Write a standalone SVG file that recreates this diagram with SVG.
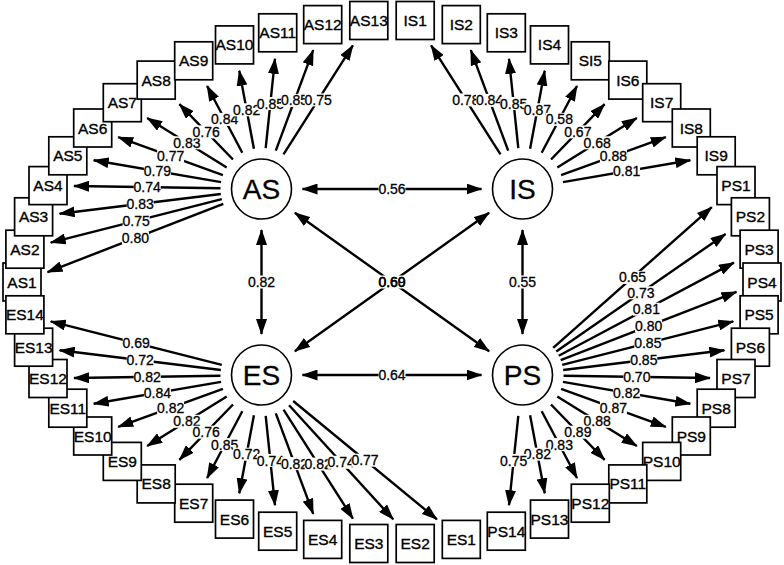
<svg xmlns="http://www.w3.org/2000/svg" xmlns:xlink="http://www.w3.org/1999/xlink" width="784" height="565" viewBox="0 0 784 565">
<style>
.bg{fill:#fff}
.box rect{fill:#fff;stroke:#000;stroke-width:1.7}
.lat circle{fill:#fff;stroke:#000;stroke-width:1.6}
text{font-family:"Liberation Sans",Arial,Helvetica,sans-serif;fill:#000;text-anchor:middle;dominant-baseline:central}
.box text{font-size:15.5px;stroke:#000;stroke-width:0.35}
.lat text{font-size:28px;stroke:#000;stroke-width:0.3}
.edges line{stroke:#000;stroke-width:2.4;fill:none;marker-end:url(#ah)}
.edges line.b{marker-start:url(#ah)}
.edges text{font-size:14px;stroke:#000;stroke-width:0.3}
#lb{fill:#fff}
</style>
<defs>
<marker id="ah" viewBox="0 0 16 11" refX="15" refY="5.5" markerWidth="16" markerHeight="11" markerUnits="userSpaceOnUse" orient="auto-start-reverse"><path d="M0,0L16,5.5L0,11z" fill="#000"/></marker>
<rect id="lb" x="-13.5" y="-6.5" width="27" height="13"/>
</defs>
<rect class="bg" x="0" y="0" width="784" height="565"/>
<g id="connectors" class="edges">
<line x1="223.3" y1="203.8" x2="47.5" y2="272.1"/>
<line x1="221.8" y1="199.1" x2="50.7" y2="242.6"/>
<line x1="220.8" y1="194.0" x2="59.6" y2="213.7"/>
<line x1="220.5" y1="188.3" x2="74.0" y2="186.0"/>
<line x1="221.1" y1="182.1" x2="93.7" y2="160.2"/>
<line x1="222.9" y1="175.1" x2="118.2" y2="137.2"/>
<line x1="226.7" y1="167.4" x2="147.2" y2="118.1"/>
<line x1="233.0" y1="159.5" x2="179.4" y2="104.2"/>
<line x1="242.3" y1="152.8" x2="207.1" y2="86.0"/>
<line x1="253.9" y1="148.7" x2="239.3" y2="70.8"/>
<line x1="265.7" y1="148.2" x2="275.0" y2="58.8"/>
<line x1="275.8" y1="150.6" x2="313.2" y2="50.2"/>
<line x1="283.5" y1="154.4" x2="352.9" y2="45.4"/>
<line x1="500.5" y1="154.4" x2="431.1" y2="45.4"/>
<line x1="508.2" y1="150.6" x2="470.8" y2="50.2"/>
<line x1="518.3" y1="148.2" x2="509.0" y2="58.8"/>
<line x1="530.1" y1="148.7" x2="544.7" y2="70.8"/>
<line x1="541.7" y1="152.8" x2="577.0" y2="86.0"/>
<line x1="551.0" y1="159.5" x2="604.6" y2="104.2"/>
<line x1="557.3" y1="167.4" x2="636.8" y2="118.1"/>
<line x1="561.1" y1="175.1" x2="665.8" y2="137.2"/>
<line x1="562.9" y1="182.1" x2="690.3" y2="160.2"/>
<line x1="553.2" y1="347.8" x2="711.8" y2="207.1"/>
<line x1="556.2" y1="351.6" x2="725.6" y2="234.0"/>
<line x1="558.7" y1="355.8" x2="733.9" y2="262.6"/>
<line x1="560.7" y1="360.2" x2="736.5" y2="291.9"/>
<line x1="562.2" y1="364.9" x2="733.3" y2="321.4"/>
<line x1="563.2" y1="370.0" x2="724.4" y2="350.3"/>
<line x1="563.5" y1="375.7" x2="710.0" y2="378.0"/>
<line x1="562.9" y1="381.9" x2="690.3" y2="403.8"/>
<line x1="561.1" y1="388.9" x2="665.8" y2="426.8"/>
<line x1="557.3" y1="396.6" x2="636.8" y2="445.9"/>
<line x1="551.0" y1="404.5" x2="604.6" y2="459.8"/>
<line x1="541.7" y1="411.3" x2="577.0" y2="478.0"/>
<line x1="530.1" y1="415.3" x2="544.7" y2="493.2"/>
<line x1="518.3" y1="415.8" x2="509.0" y2="505.2"/>
<line x1="221.8" y1="364.9" x2="50.7" y2="321.4"/>
<line x1="220.8" y1="370.0" x2="59.6" y2="350.3"/>
<line x1="220.5" y1="375.7" x2="74.0" y2="378.0"/>
<line x1="221.1" y1="381.9" x2="93.7" y2="403.8"/>
<line x1="222.9" y1="388.9" x2="118.2" y2="426.8"/>
<line x1="226.7" y1="396.6" x2="147.2" y2="445.9"/>
<line x1="233.0" y1="404.5" x2="179.4" y2="459.8"/>
<line x1="242.3" y1="411.3" x2="207.1" y2="478.0"/>
<line x1="253.9" y1="415.3" x2="239.3" y2="493.2"/>
<line x1="265.7" y1="415.8" x2="275.0" y2="505.2"/>
<line x1="275.8" y1="413.4" x2="313.2" y2="513.8"/>
<line x1="283.5" y1="409.6" x2="352.9" y2="518.6"/>
<line x1="289.1" y1="405.3" x2="393.2" y2="519.3"/>
<line x1="293.2" y1="401.0" x2="436.9" y2="519.3"/>
<line class="b" x1="302.5" y1="189" x2="481.5" y2="189"/>
<line class="b" x1="302.5" y1="375" x2="481.5" y2="375"/>
<line class="b" x1="261.5" y1="230" x2="261.5" y2="334"/>
<line class="b" x1="522.5" y1="230" x2="522.5" y2="334"/>
<line class="b" x1="294.9" y1="212.8" x2="489.1" y2="351.2"/>
<line class="b" x1="294.9" y1="351.2" x2="489.1" y2="212.8"/>
<use href="#lb" xlink:href="#lb" x="135.4" y="238.0"/><text x="135.4" y="238.0">0.80</text>
<use href="#lb" xlink:href="#lb" x="136.2" y="220.9"/><text x="136.2" y="220.9">0.75</text>
<use href="#lb" xlink:href="#lb" x="140.2" y="203.8"/><text x="140.2" y="203.8">0.83</text>
<use href="#lb" xlink:href="#lb" x="147.2" y="187.2"/><text x="147.2" y="187.2">0.74</text>
<use href="#lb" xlink:href="#lb" x="157.4" y="171.2"/><text x="157.4" y="171.2">0.79</text>
<use href="#lb" xlink:href="#lb" x="170.6" y="156.2"/><text x="170.6" y="156.2">0.77</text>
<use href="#lb" xlink:href="#lb" x="186.9" y="142.8"/><text x="186.9" y="142.8">0.83</text>
<use href="#lb" xlink:href="#lb" x="206.2" y="131.9"/><text x="206.2" y="131.9">0.76</text>
<use href="#lb" xlink:href="#lb" x="224.7" y="119.4"/><text x="224.7" y="119.4">0.84</text>
<use href="#lb" xlink:href="#lb" x="246.6" y="109.8"/><text x="246.6" y="109.8">0.82</text>
<use href="#lb" xlink:href="#lb" x="270.4" y="103.5"/><text x="270.4" y="103.5">0.85</text>
<use href="#lb" xlink:href="#lb" x="294.5" y="100.4"/><text x="294.5" y="100.4">0.85</text>
<use href="#lb" xlink:href="#lb" x="318.2" y="99.9"/><text x="318.2" y="99.9">0.75</text>
<use href="#lb" xlink:href="#lb" x="465.8" y="99.9"/><text x="465.8" y="99.9">0.78</text>
<use href="#lb" xlink:href="#lb" x="489.5" y="100.4"/><text x="489.5" y="100.4">0.84</text>
<use href="#lb" xlink:href="#lb" x="513.7" y="103.5"/><text x="513.7" y="103.5">0.85</text>
<use href="#lb" xlink:href="#lb" x="537.4" y="109.8"/><text x="537.4" y="109.8">0.87</text>
<use href="#lb" xlink:href="#lb" x="559.3" y="119.4"/><text x="559.3" y="119.4">0.58</text>
<use href="#lb" xlink:href="#lb" x="577.8" y="131.9"/><text x="577.8" y="131.9">0.67</text>
<use href="#lb" xlink:href="#lb" x="597.1" y="142.8"/><text x="597.1" y="142.8">0.68</text>
<use href="#lb" xlink:href="#lb" x="613.4" y="156.2"/><text x="613.4" y="156.2">0.88</text>
<use href="#lb" xlink:href="#lb" x="626.6" y="171.2"/><text x="626.6" y="171.2">0.81</text>
<use href="#lb" xlink:href="#lb" x="632.5" y="277.4"/><text x="632.5" y="277.4">0.65</text>
<use href="#lb" xlink:href="#lb" x="640.9" y="292.8"/><text x="640.9" y="292.8">0.73</text>
<use href="#lb" xlink:href="#lb" x="646.3" y="309.2"/><text x="646.3" y="309.2">0.81</text>
<use href="#lb" xlink:href="#lb" x="648.6" y="326.0"/><text x="648.6" y="326.0">0.80</text>
<use href="#lb" xlink:href="#lb" x="647.8" y="343.2"/><text x="647.8" y="343.2">0.85</text>
<use href="#lb" xlink:href="#lb" x="643.8" y="360.2"/><text x="643.8" y="360.2">0.85</text>
<use href="#lb" xlink:href="#lb" x="636.8" y="376.9"/><text x="636.8" y="376.9">0.70</text>
<use href="#lb" xlink:href="#lb" x="626.6" y="392.9"/><text x="626.6" y="392.9">0.82</text>
<use href="#lb" xlink:href="#lb" x="613.4" y="407.9"/><text x="613.4" y="407.9">0.87</text>
<use href="#lb" xlink:href="#lb" x="597.1" y="421.3"/><text x="597.1" y="421.3">0.88</text>
<use href="#lb" xlink:href="#lb" x="577.8" y="432.2"/><text x="577.8" y="432.2">0.89</text>
<use href="#lb" xlink:href="#lb" x="559.3" y="444.6"/><text x="559.3" y="444.6">0.83</text>
<use href="#lb" xlink:href="#lb" x="537.4" y="454.2"/><text x="537.4" y="454.2">0.82</text>
<use href="#lb" xlink:href="#lb" x="513.7" y="460.5"/><text x="513.7" y="460.5">0.75</text>
<use href="#lb" xlink:href="#lb" x="136.2" y="343.2"/><text x="136.2" y="343.2">0.69</text>
<use href="#lb" xlink:href="#lb" x="140.2" y="360.2"/><text x="140.2" y="360.2">0.72</text>
<use href="#lb" xlink:href="#lb" x="147.2" y="376.9"/><text x="147.2" y="376.9">0.82</text>
<use href="#lb" xlink:href="#lb" x="157.4" y="392.9"/><text x="157.4" y="392.9">0.84</text>
<use href="#lb" xlink:href="#lb" x="170.6" y="407.9"/><text x="170.6" y="407.9">0.82</text>
<use href="#lb" xlink:href="#lb" x="186.9" y="421.3"/><text x="186.9" y="421.3">0.82</text>
<use href="#lb" xlink:href="#lb" x="206.2" y="432.2"/><text x="206.2" y="432.2">0.76</text>
<use href="#lb" xlink:href="#lb" x="224.7" y="444.6"/><text x="224.7" y="444.6">0.85</text>
<use href="#lb" xlink:href="#lb" x="246.6" y="454.2"/><text x="246.6" y="454.2">0.72</text>
<use href="#lb" xlink:href="#lb" x="270.4" y="460.5"/><text x="270.4" y="460.5">0.74</text>
<use href="#lb" xlink:href="#lb" x="294.5" y="463.6"/><text x="294.5" y="463.6">0.82</text>
<use href="#lb" xlink:href="#lb" x="318.2" y="464.1"/><text x="318.2" y="464.1">0.82</text>
<use href="#lb" xlink:href="#lb" x="341.2" y="462.3"/><text x="341.2" y="462.3">0.74</text>
<use href="#lb" xlink:href="#lb" x="365.0" y="460.2"/><text x="365.0" y="460.2">0.77</text>
<use href="#lb" xlink:href="#lb" x="392" y="189"/><text x="392" y="189">0.56</text>
<use href="#lb" xlink:href="#lb" x="392" y="375"/><text x="392" y="375">0.64</text>
<use href="#lb" xlink:href="#lb" x="261.5" y="282"/><text x="261.5" y="282">0.82</text>
<use href="#lb" xlink:href="#lb" x="522.5" y="282"/><text x="522.5" y="282">0.55</text>
<use href="#lb" xlink:href="#lb" x="392" y="282"/><text x="392" y="282">0.69</text>
<text x="392" y="282">0.60</text>
</g>
<g id="AS" class="lat"><circle cx="261.5" cy="189" r="30"/><text x="261.5" y="189">AS</text></g>
<g id="IS" class="lat"><circle cx="522.5" cy="189" r="30"/><text x="522.5" y="189">IS</text></g>
<g id="ES" class="lat"><circle cx="261.5" cy="375" r="30"/><text x="261.5" y="375">ES</text></g>
<g id="PS" class="lat"><circle cx="522.5" cy="375" r="30"/><text x="522.5" y="375">PS</text></g>
<g id="AS1" class="box"><rect x="3" y="263" width="38" height="38"/><text x="22" y="282">AS1</text></g>
<g id="AS2" class="box"><rect x="5.9" y="230.2" width="38" height="38"/><text x="24.9" y="249.2">AS2</text></g>
<g id="AS3" class="box"><rect x="14.6" y="197.8" width="38" height="38"/><text x="33.6" y="216.8">AS3</text></g>
<g id="AS4" class="box"><rect x="29" y="166.6" width="38" height="38"/><text x="48" y="185.6">AS4</text></g>
<g id="AS5" class="box"><rect x="48.8" y="136.8" width="38" height="38"/><text x="67.8" y="155.8">AS5</text></g>
<g id="AS6" class="box"><rect x="73.7" y="109" width="38" height="38"/><text x="92.7" y="128">AS6</text></g>
<g id="AS7" class="box"><rect x="103.3" y="83.7" width="38" height="38"/><text x="122.3" y="102.7">AS7</text></g>
<g id="AS8" class="box"><rect x="137.2" y="61.1" width="38" height="38"/><text x="156.2" y="80.1">AS8</text></g>
<g id="AS9" class="box"><rect x="174.7" y="41.8" width="38" height="38"/><text x="193.7" y="60.8">AS9</text></g>
<g id="AS10" class="box"><rect x="215.5" y="25.9" width="38" height="38"/><text x="234.5" y="44.9">AS10</text></g>
<g id="AS11" class="box"><rect x="258.7" y="13.8" width="38" height="38"/><text x="277.7" y="32.8">AS11</text></g>
<g id="AS12" class="box"><rect x="303.7" y="5.6" width="38" height="38"/><text x="322.7" y="24.6">AS12</text></g>
<g id="AS13" class="box"><rect x="349.8" y="1.5" width="38" height="38"/><text x="368.8" y="20.5">AS13</text></g>
<g id="IS1" class="box"><rect x="396.2" y="1.5" width="38" height="38"/><text x="415.2" y="20.5">IS1</text></g>
<g id="IS2" class="box"><rect x="442.3" y="5.6" width="38" height="38"/><text x="461.3" y="24.6">IS2</text></g>
<g id="IS3" class="box"><rect x="487.3" y="13.8" width="38" height="38"/><text x="506.3" y="32.8">IS3</text></g>
<g id="IS4" class="box"><rect x="530.5" y="25.9" width="38" height="38"/><text x="549.5" y="44.9">IS4</text></g>
<g id="SI5" class="box"><rect x="571.3" y="41.8" width="38" height="38"/><text x="590.3" y="60.8">SI5</text></g>
<g id="IS6" class="box"><rect x="608.8" y="61.1" width="38" height="38"/><text x="627.8" y="80.1">IS6</text></g>
<g id="IS7" class="box"><rect x="642.7" y="83.7" width="38" height="38"/><text x="661.7" y="102.7">IS7</text></g>
<g id="IS8" class="box"><rect x="672.3" y="109" width="38" height="38"/><text x="691.3" y="128">IS8</text></g>
<g id="IS9" class="box"><rect x="697.2" y="136.8" width="38" height="38"/><text x="716.2" y="155.8">IS9</text></g>
<g id="PS1" class="box"><rect x="717" y="166.6" width="38" height="38"/><text x="736" y="185.6">PS1</text></g>
<g id="PS2" class="box"><rect x="731.4" y="197.8" width="38" height="38"/><text x="750.4" y="216.8">PS2</text></g>
<g id="PS3" class="box"><rect x="740.1" y="230.2" width="38" height="38"/><text x="759.1" y="249.2">PS3</text></g>
<g id="PS4" class="box"><rect x="743" y="263" width="38" height="38"/><text x="762" y="282">PS4</text></g>
<g id="PS5" class="box"><rect x="740.1" y="295.8" width="38" height="38"/><text x="759.1" y="314.8">PS5</text></g>
<g id="PS6" class="box"><rect x="731.4" y="328.2" width="38" height="38"/><text x="750.4" y="347.2">PS6</text></g>
<g id="PS7" class="box"><rect x="717" y="359.5" width="38" height="38"/><text x="736" y="378.5">PS7</text></g>
<g id="PS8" class="box"><rect x="697.2" y="389.2" width="38" height="38"/><text x="716.2" y="408.2">PS8</text></g>
<g id="PS9" class="box"><rect x="672.3" y="417" width="38" height="38"/><text x="691.3" y="436">PS9</text></g>
<g id="PS10" class="box"><rect x="642.7" y="442.4" width="38" height="38"/><text x="661.7" y="461.4">PS10</text></g>
<g id="PS11" class="box"><rect x="608.8" y="464.9" width="38" height="38"/><text x="627.8" y="483.9">PS11</text></g>
<g id="PS12" class="box"><rect x="571.3" y="484.2" width="38" height="38"/><text x="590.3" y="503.2">PS12</text></g>
<g id="PS13" class="box"><rect x="530.5" y="500.1" width="38" height="38"/><text x="549.5" y="519.1">PS13</text></g>
<g id="PS14" class="box"><rect x="487.3" y="512.2" width="38" height="38"/><text x="506.3" y="531.2">PS14</text></g>
<g id="ES1" class="box"><rect x="442.3" y="520.4" width="38" height="38"/><text x="461.3" y="539.4">ES1</text></g>
<g id="ES2" class="box"><rect x="396.2" y="524.5" width="38" height="38"/><text x="415.2" y="543.5">ES2</text></g>
<g id="ES3" class="box"><rect x="349.8" y="524.5" width="38" height="38"/><text x="368.8" y="543.5">ES3</text></g>
<g id="ES4" class="box"><rect x="303.7" y="520.4" width="38" height="38"/><text x="322.7" y="539.4">ES4</text></g>
<g id="ES5" class="box"><rect x="258.7" y="512.2" width="38" height="38"/><text x="277.7" y="531.2">ES5</text></g>
<g id="ES6" class="box"><rect x="215.5" y="500.1" width="38" height="38"/><text x="234.5" y="519.1">ES6</text></g>
<g id="ES7" class="box"><rect x="174.7" y="484.2" width="38" height="38"/><text x="193.7" y="503.2">ES7</text></g>
<g id="ES8" class="box"><rect x="137.2" y="464.9" width="38" height="38"/><text x="156.2" y="483.9">ES8</text></g>
<g id="ES9" class="box"><rect x="103.3" y="442.4" width="38" height="38"/><text x="122.3" y="461.4">ES9</text></g>
<g id="ES10" class="box"><rect x="73.7" y="417" width="38" height="38"/><text x="92.7" y="436">ES10</text></g>
<g id="ES11" class="box"><rect x="48.8" y="389.2" width="38" height="38"/><text x="67.8" y="408.2">ES11</text></g>
<g id="ES12" class="box"><rect x="29" y="359.5" width="38" height="38"/><text x="48" y="378.5">ES12</text></g>
<g id="ES13" class="box"><rect x="14.6" y="328.2" width="38" height="38"/><text x="33.6" y="347.2">ES13</text></g>
<g id="ES14" class="box"><rect x="5.9" y="295.8" width="38" height="38"/><text x="24.9" y="314.8">ES14</text></g>
</svg>
